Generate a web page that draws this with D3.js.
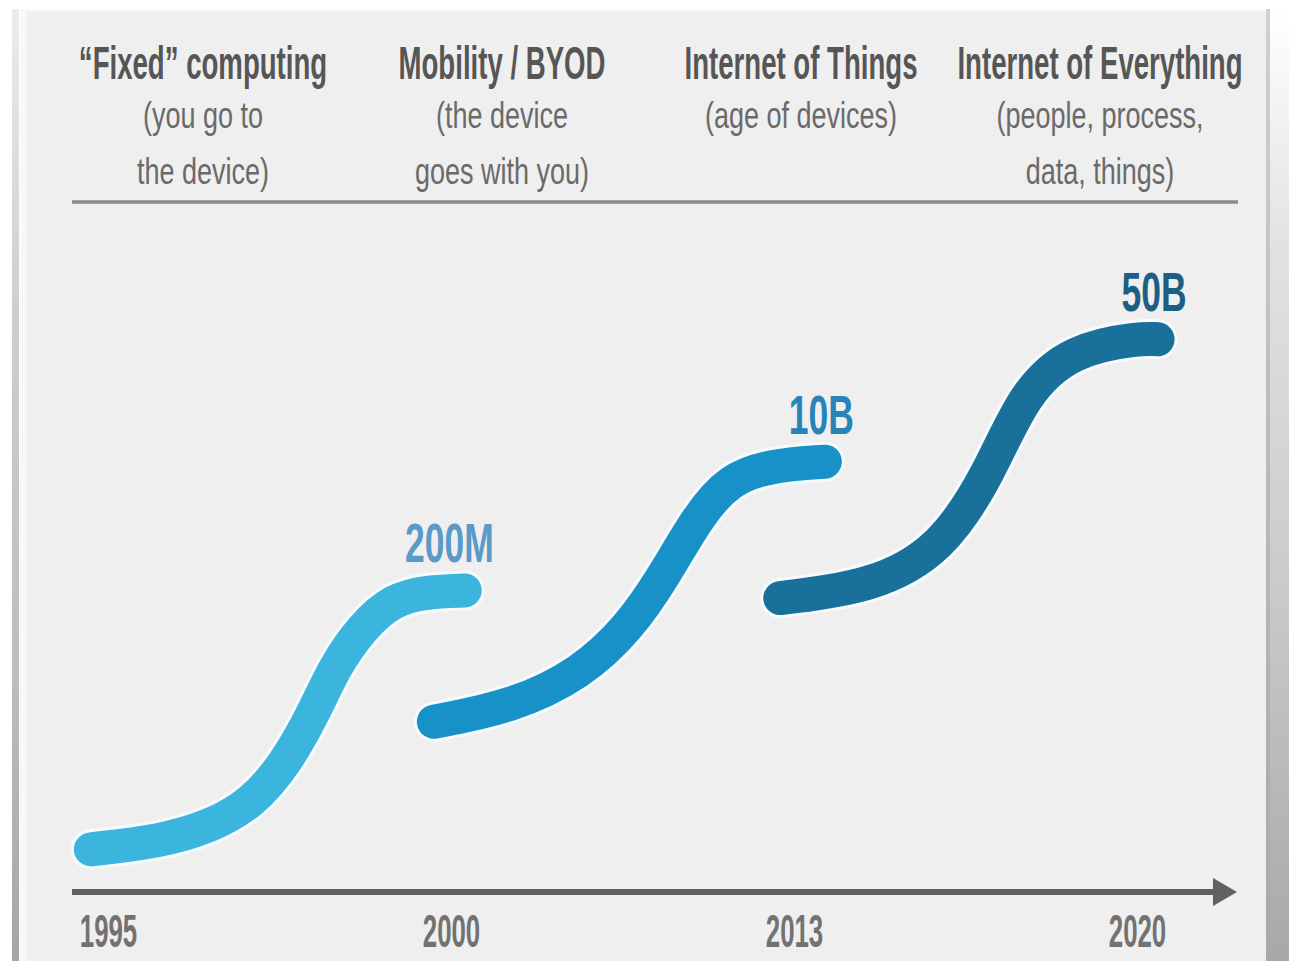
<!DOCTYPE html>
<html>
<head>
<meta charset="utf-8">
<script src="https://cdn.jsdelivr.net/npm/d3@7"></script>
<style>
  html, body { margin: 0; padding: 0; background: #ffffff; }
  svg { display: block; }
  text { font-family: "Liberation Sans", Arial, Helvetica, sans-serif; }
</style>
</head>
<body>
<svg id="chart" width="1289" height="961"></svg>
<script>
// ---- data ----
const eras = [0, 1, 2, 3];
const yearLabels = ["1995", "2000", "2013", "2020"];

const stageTitles = ["\u201CFixed\u201D computing", "Mobility / BYOD", "Internet of Things", "Internet of Everything"];
const stageNotes = [
  ["(you go to", "the device)"],
  ["(the device", "goes with you)"],
  ["(age of devices)"],
  ["(people, process,", "data, things)"]
];

// growth waves: [era position, connection level]
const waveFixed = [[-0.05, -0.01], [0.15, 0.05], [0.30, 0.17], [0.42, 0.35], [0.52, 0.67], [0.60, 1.06],
                   [0.66, 1.42], [0.74, 1.73], [0.83, 1.95], [0.93, 2.01], [1.04, 2.02]];
const waveMobility = [[0.95, 0.99], [1.18, 1.11], [1.38, 1.37], [1.52, 1.73], [1.62, 2.13], [1.72, 2.60],
                      [1.81, 2.89], [1.93, 3.00], [2.09, 3.03]];
const waveIoE = [[1.96, 1.96], [2.23, 2.05], [2.43, 2.34], [2.57, 2.94], [2.67, 3.57], [2.81, 3.91],
                 [3.01, 4.00], [3.06, 3.99]];

const waveValues = ["200M", "10B", "50B"];
const waveColors = ["#3cb5de", "#1890c8", "#19709a"];
const labelColors = ["#5a9ac8", "#2784b9", "#1d5f84"];

// ---- layout ----
const svg = d3.select("#chart");
const W = 1289, H = 961;

const x = d3.scaleLinear().domain([0, 3]).range([108, 1137]);
const y = d3.scaleLinear().domain([0, 4]).range([848, 338]);
const headX = d3.scaleLinear().domain([0, 3]).range([203, 1100]);

// ---- frame ----
const defs = svg.append("defs");
function vGrad(id, stops) {
  const g = defs.append("linearGradient").attr("id", id)
    .attr("x1", 0).attr("y1", 0).attr("x2", 0).attr("y2", 1);
  stops.forEach(s => g.append("stop").attr("offset", s[0]).attr("stop-color", s[1]));
}
vGrad("leftEdge", [[0, "#ececec"], [0.3, "#cfcfcf"], [0.7, "#bdbdbd"], [1, "#a6a6a6"]]);
vGrad("rightEdge", [[0, "#ffffff"], [0.25, "#e2e2e2"], [0.6, "#cbcbcb"], [1, "#a8a8a8"]]);
vGrad("rightLine", [[0, "#d0d0d0"], [0.5, "#b9b9b9"], [1, "#a8a8a8"]]);

svg.append("rect").attr("x", 0).attr("y", 0).attr("width", W).attr("height", H).attr("fill", "#ffffff");
svg.append("rect").attr("x", 20).attr("y", 9).attr("width", 1246).attr("height", H - 9).attr("fill", "#f8f8f8");
svg.append("rect").attr("x", 27).attr("y", 11).attr("width", 1239).attr("height", H - 11).attr("fill", "#efefef");
svg.append("rect").attr("x", 12).attr("y", 9).attr("width", 7).attr("height", H - 9).attr("fill", "url(#leftEdge)");
svg.append("rect").attr("x", 1266).attr("y", 9).attr("width", 4).attr("height", H - 9).attr("fill", "url(#rightLine)");
svg.append("rect").attr("x", 1270).attr("y", 9).attr("width", 19).attr("height", H - 9).attr("fill", "url(#rightEdge)");

// ---- stage headers ----
const head = svg.append("g").attr("class", "headers");
stageTitles.forEach((t, i) => {
  head.append("text")
    .attr("transform", `translate(${headX(i)},79) scale(0.6,1)`)
    .attr("text-anchor", "middle")
    .attr("font-size", 46).attr("font-weight", "bold")
    .attr("fill", "#565656")
    .text(t);
  stageNotes[i].forEach((line, j) => {
    head.append("text")
      .attr("transform", `translate(${headX(i)},${128 + j * 56}) scale(0.73,1)`)
      .attr("text-anchor", "middle")
      .attr("font-size", 37)
      .attr("fill", "#6a6a6a")
      .text(line);
  });
});

head.append("line")
  .attr("x1", x(0) - 36).attr("x2", x(3) + 101)
  .attr("y1", 202).attr("y2", 202)
  .attr("stroke", "#8a8a8a").attr("stroke-width", 3.5);

// ---- growth waves ----
const line = d3.line()
  .x(d => x(d[0]))
  .y(d => y(d[1]))
  .curve(d3.curveBasis);

const waves = [waveFixed, waveMobility, waveIoE];
const waveG = svg.append("g").attr("class", "waves");

waveG.selectAll("path.halo")
  .data(waves)
  .join("path")
  .attr("class", "halo")
  .attr("d", line)
  .attr("fill", "none")
  .attr("stroke", "#f7fbfd")
  .attr("stroke-width", 40)
  .attr("stroke-linecap", "round")
  .attr("stroke-linejoin", "round");

waveG.selectAll("path.wave")
  .data(waves)
  .join("path")
  .attr("class", "wave")
  .attr("d", line)
  .attr("fill", "none")
  .attr("stroke", (d, i) => waveColors[i])
  .attr("stroke-width", 34)
  .attr("stroke-linecap", "round")
  .attr("stroke-linejoin", "round");

// value labels at the end of each wave
waveG.selectAll("text.value")
  .data(waves)
  .join("text")
  .attr("class", "value")
  .attr("transform", (d, i) => {
    const end = d[d.length - 1];
    return `translate(${x(end[0]) + 29},${y(end[1]) - 28}) scale(0.645,1)`;
  })
  .attr("text-anchor", "end")
  .attr("font-size", 55)
  .attr("font-weight", "bold")
  .attr("fill", (d, i) => labelColors[i])
  .text((d, i) => waveValues[i]);

// ---- time axis ----
const axisY = 892;
const axisG = svg.append("g")
  .attr("class", "axis")
  .attr("transform", `translate(0,${axisY})`)
  .call(d3.axisBottom(x).tickValues(eras).tickFormat(i => yearLabels[i]).tickSize(0));

axisG.select(".domain").remove();
axisG.selectAll(".tick text")
  .attr("y", 0).attr("dy", 0)
  .attr("transform", "translate(0,55) scale(0.55,1)")
  .attr("font-family", "\"Liberation Sans\", Arial, sans-serif")
  .attr("font-size", 47)
  .attr("font-weight", "bold")
  .attr("fill", "#727272");

const axisStart = x(0) - 36, axisEnd = x(3) + 78;
axisG.append("line")
  .attr("x1", axisStart).attr("x2", axisEnd)
  .attr("y1", 0).attr("y2", 0)
  .attr("stroke", "#616161").attr("stroke-width", 6);
axisG.append("path")
  .attr("d", `M${axisEnd - 2},-14 L${axisEnd + 22},0 L${axisEnd - 2},14 Z`)
  .attr("fill", "#616161");
</script>
</body>
</html>
